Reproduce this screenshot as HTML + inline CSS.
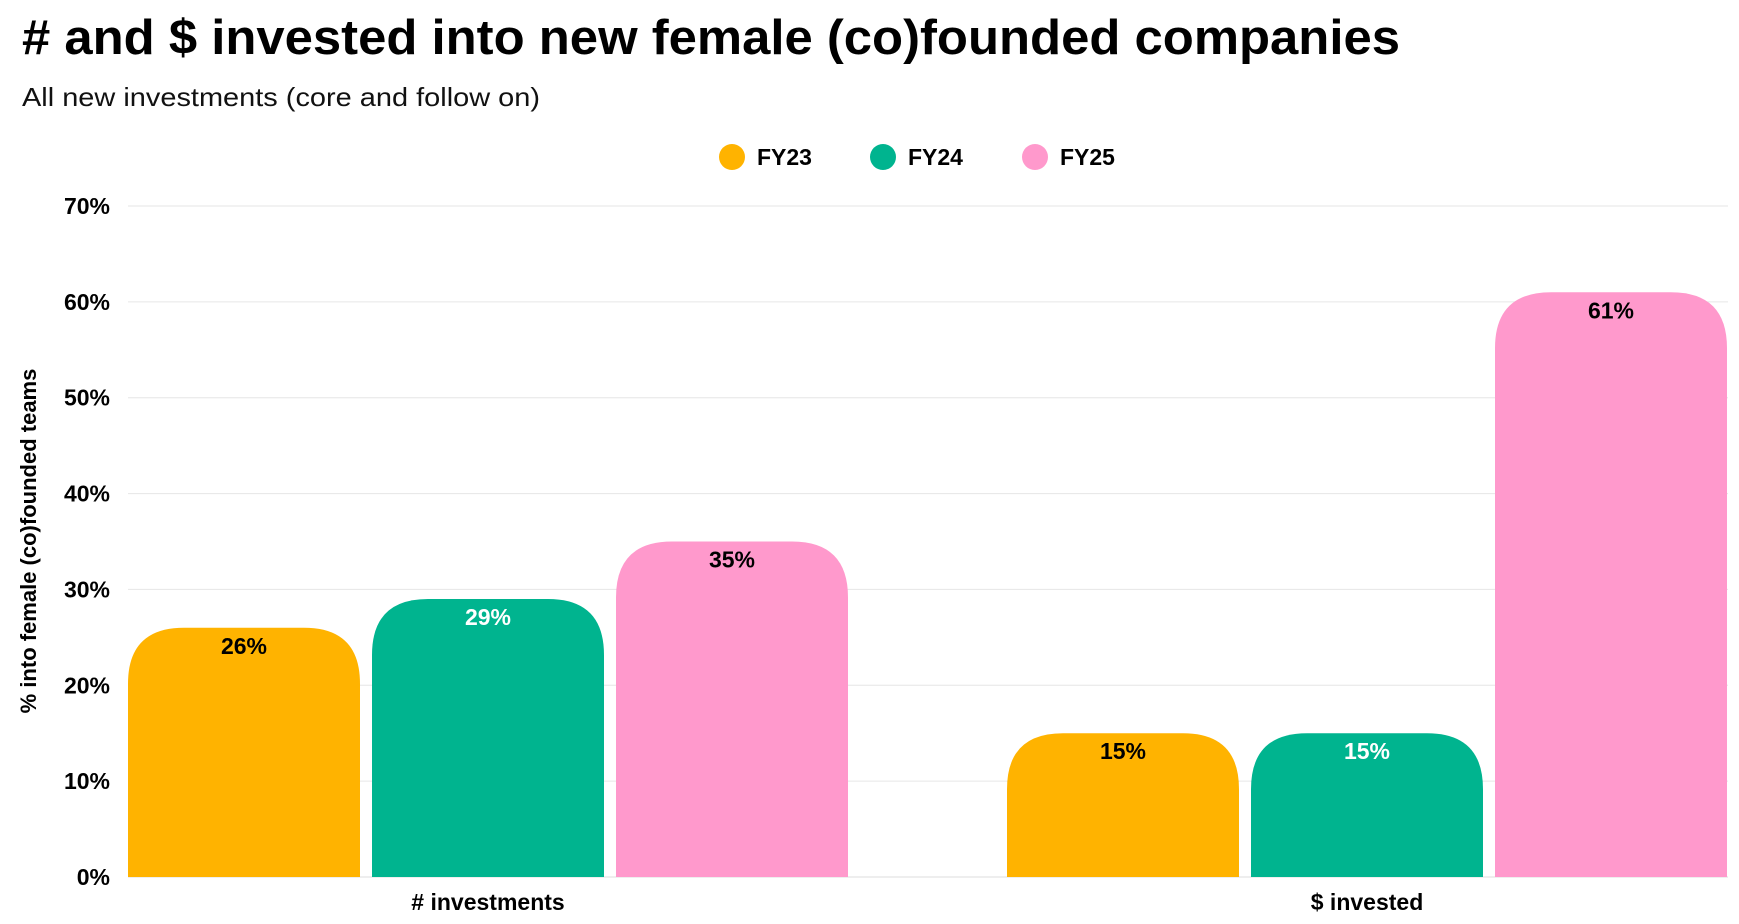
<!DOCTYPE html>
<html><head><meta charset="utf-8"><style>
html,body{margin:0;padding:0;background:#fff;}
svg{display:block;font-family:"Liberation Sans",Arial,sans-serif;}
</style></head><body>
<svg id="chart" width="1739" height="924" viewBox="0 0 1739 924">
<text x="22" y="54" font-size="49" font-weight="bold" fill="#000" textLength="1378" lengthAdjust="spacingAndGlyphs"># and $ invested into new female (co)founded companies</text>
<text x="22" y="106" font-size="26" fill="#111" textLength="518" lengthAdjust="spacingAndGlyphs">All new investments (core and follow on)</text>
<g id="legend"></g>
<g id="grid"></g>
<g id="bars"></g>
<text transform="translate(36,541) rotate(-90)" text-anchor="middle" font-size="22" font-weight="bold" fill="#000">% into female (co)founded teams</text>
</svg>
<script>
const categories = ["# investments", "$ invested"];
const seriesNames = ["FY23", "FY24", "FY25"];
const fy23 = [26, 15];
const fy24 = [29, 15];
const fy25 = [35, 61];
const yTicks = [0, 10, 20, 30, 40, 50, 60, 70];
const yTickLabels = ["0%", "10%", "20%", "30%", "40%", "50%", "60%", "70%"];

const colors = ["#FFB300", "#00B48F", "#FF99CC"];
const labelColors = ["#000", "#fff", "#000"];
const series = [fy23, fy24, fy25];
const NS = "http://www.w3.org/2000/svg";
const x0 = 128, x1 = 1728, yTop = 206, yBot = 877, yMax = 70;
const y = v => yBot - (v / yMax) * (yBot - yTop);
const barW = 232, barGap = 12, groupStep = 879;
const xBar = (c, s) => x0 + c * groupStep + s * (barW + barGap);

function mk(tag, attrs, parent) {
  const el = document.createElementNS(NS, tag);
  for (const k in attrs) el.setAttribute(k, attrs[k]);
  parent.appendChild(el);
  return el;
}
const grid = document.getElementById("grid");
yTicks.forEach((t, i) => {
  const l = mk("line", {x1: x0, x2: x1, y1: y(t), y2: y(t), stroke: i === 0 ? "#ddd" : "#e6e6e6", "stroke-width": 1}, grid);
  
  
  const tx = mk("text", {x: 110, y: y(t) + 8, "text-anchor": "end", "font-size": 23, "font-weight": "bold", fill: "#000"}, grid);
  tx.textContent = yTickLabels[i];
  
  
});
const bars = document.getElementById("bars");
const R = 56;
categories.forEach((cat, c) => {
  series.forEach((arr, s) => {
    const v = arr[c];
    const bx = xBar(c, s), top = y(v), r = Math.min(R, (yBot - top));
    const d = `M${bx},${yBot} L${bx},${top + r} Q${bx},${top} ${bx + r},${top} L${bx + barW - r},${top} Q${bx + barW},${top} ${bx + barW},${top + r} L${bx + barW},${yBot} Z`;
    const p = mk("path", {d: d, fill: colors[s]}, bars);
    
    
    const t = mk("text", {x: bx + barW / 2, y: top + 26, "text-anchor": "middle", "font-size": 23, "font-weight": "bold", fill: labelColors[s]}, bars);
    t.textContent = v + "%";
    
    
  });
  const cl = mk("text", {x: xBar(c, 1) + barW / 2, y: 910, "text-anchor": "middle", "font-size": 23, "font-weight": "bold", fill: "#000"}, bars);
  cl.textContent = cat;
  
  
});
const legend = document.getElementById("legend");
const legX = [732, 883, 1035];
seriesNames.forEach((n, i) => {
  const g = mk("g", {}, legend);
  
  
  mk("circle", {cx: legX[i], cy: 157, r: 13, fill: colors[i]}, g);
  const t = mk("text", {x: legX[i] + 25, y: 165, "font-size": 23, "font-weight": "bold", fill: "#000"}, g);
  t.textContent = n;
});
</script>
</body></html>
